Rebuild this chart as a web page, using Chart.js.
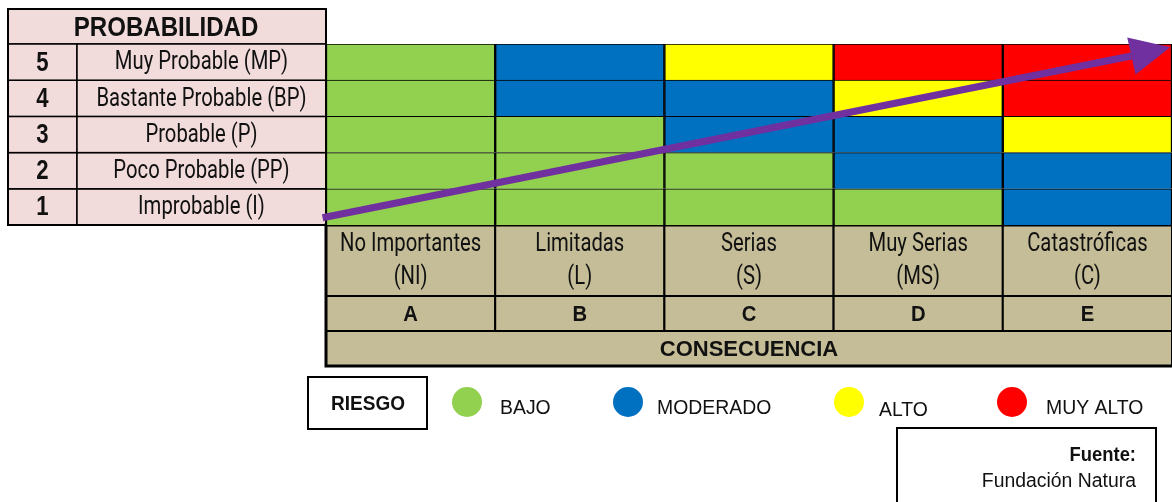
<!DOCTYPE html>
<html lang="es">
<head>
<meta charset="UTF-8">
<title>Matriz de riesgo</title>
<script src="https://cdn.jsdelivr.net/npm/chart.js"></script>
<style>
  body { margin: 0; background: #fff; }
  canvas { display: block; }
</style>
</head>
<body>
<canvas id="matrix" width="1172" height="502"></canvas>
<script>
// probability levels, bottom (1) to top (5)
const probLevels = ['1', '2', '3', '4', '5'];
const probLabels = ['Improbable (I)', 'Poco Probable (PP)', 'Probable (P)', 'Bastante Probable (BP)', 'Muy Probable (MP)'];

// consequence columns
const consLetters = ['A', 'B', 'C', 'D', 'E'];
const consLabels = [['No Importantes', '(NI)'], ['Limitadas', '(L)'], ['Serias', '(S)'], ['Muy Serias', '(MS)'], ['Catastróficas', '(C)']];

// risk categories
const riskLevels = ['BAJO', 'MODERADO', 'ALTO', 'MUY ALTO'];
const riskColors = ['#92d050', '#0070c0', '#ffff00', '#ff0000'];

// risk index per cell, one row per probability level (1..5), columns A..E
const riskRow1 = [0, 0, 0, 0, 1];
const riskRow2 = [0, 0, 0, 1, 1];
const riskRow3 = [0, 0, 1, 1, 2];
const riskRow4 = [0, 1, 1, 2, 3];
const riskRow5 = [0, 1, 2, 3, 3];
const riskRows = [riskRow1, riskRow2, riskRow3, riskRow4, riskRow5];

// arrow, in grid units (column, row)
const arrowStart = { x: -0.02, y: 0.2 };
const arrowBase = { x: 4.76, y: 4.67 };
const arrowTip = { x: 4.99, y: 4.91 };

const PINK = '#f2dcdb';
const TAN = '#c4bd97';
const PURPLE = '#7030a0';
const NARROW = '25px Roboto';

function txt(ctx, s, x, y, font, sx, align) {
  ctx.save();
  ctx.font = font;
  ctx.textBaseline = 'middle';
  ctx.textAlign = align || 'center';
  ctx.translate(x, y);
  ctx.scale(sx, 1);
  ctx.fillStyle = '#111';
  ctx.fillText(s, 0, 0);
  ctx.restore();
}

function box(ctx, x, y, w, h, fill, lw) {
  if (fill) { ctx.fillStyle = fill; ctx.fillRect(x, y, w, h); }
  ctx.lineWidth = lw || 2;
  ctx.strokeStyle = '#000';
  ctx.strokeRect(x, y, w, h);
}

const tablesPlugin = {
  id: 'tables',
  beforeDatasetsDraw(chart) {
    const ctx = chart.ctx;
    const xs = chart.scales.x2, ys = chart.scales.y;
    const top = ys.getPixelForValue(5), base = ys.getPixelForValue(0);
    const left = xs.getPixelForValue(0), right = xs.getPixelForValue(5);

    // left table: probability
    const tl = 8, numR = 77;
    box(ctx, tl, 9, left - tl, top - 9, PINK, 1.5);
    txt(ctx, 'PROBABILIDAD', (tl + left) / 2 - 1, 28, 'bold 28px "Liberation Sans"', 0.86);
    for (let i = 0; i < probLevels.length; i++) {
      const y0 = ys.getPixelForValue(i + 1), y1 = ys.getPixelForValue(i);
      box(ctx, tl, y0, numR - tl, y1 - y0, PINK, 1.5);
      box(ctx, numR, y0, left - numR, y1 - y0, PINK, 1.5);
      const cy = (y0 + y1) / 2;
      txt(ctx, probLevels[i], (tl + numR) / 2, cy + 1, 'bold 27px "Liberation Sans"', 0.82);
      txt(ctx, probLabels[i], (numR + left) / 2, cy + 1, NARROW, 0.81);
    }
    ctx.lineWidth = 2;
    ctx.strokeRect(tl, 9, left - tl, base - 9);

    // bottom table: consequence
    const hdrB = base + 71, letB = hdrB + 35, consB = letB + 35;
    for (let i = 0; i < consLetters.length; i++) {
      const x0 = xs.getPixelForValue(i), x1 = xs.getPixelForValue(i + 1);
      const cx = (x0 + x1) / 2;
      box(ctx, x0, base, x1 - x0, hdrB - base, TAN, 2);
      box(ctx, x0, hdrB, x1 - x0, letB - hdrB, TAN, 2);
      txt(ctx, consLabels[i][0], cx, base + 20, NARROW, 0.81);
      txt(ctx, consLabels[i][1], cx, base + 53, NARROW, 0.81);
      txt(ctx, consLetters[i], cx, (hdrB + letB) / 2 + 1, 'bold 22px "Liberation Sans"', 0.92);
    }
    box(ctx, left, letB, right - left, consB - letB, TAN, 2);
    txt(ctx, 'CONSECUENCIA', (left + right) / 2, (letB + consB) / 2 + 1, 'bold 22px "Liberation Sans"', 1);
    ctx.lineWidth = 3;
    ctx.strokeRect(left, base, right - left + 2, consB - base);

    // legend
    box(ctx, 308, 377, 119, 52, '#fff', 2);
    txt(ctx, 'RIESGO', 368, 404, 'bold 20px "Liberation Sans"', 0.95);
    const dotX = [467, 628, 849, 1012];
    const labX = [500, 657, 879, 1046];
    const labY = [408, 408, 410, 408];
    for (let i = 0; i < riskLevels.length; i++) {
      ctx.beginPath();
      ctx.arc(dotX[i], 402, 15, 0, Math.PI * 2);
      ctx.fillStyle = riskColors[i];
      ctx.fill();
      txt(ctx, riskLevels[i], labX[i], labY[i], '20px "Liberation Sans"', 0.97, 'left');
    }

    // source box
    ctx.lineWidth = 2;
    ctx.strokeStyle = '#000';
    ctx.strokeRect(897, 428, 259, 90);
    txt(ctx, 'Fuente:', 1136, 455, 'bold 20px "Liberation Sans"', 0.92, 'right');
    txt(ctx, 'Fundación Natura', 1136, 481, '20px "Liberation Sans"', 0.97, 'right');
  },
  afterDatasetsDraw(chart) {
    const ctx = chart.ctx;
    const xs = chart.scales.x2, ys = chart.scales.y;
    const bx = xs.getPixelForValue(arrowBase.x), by = ys.getPixelForValue(arrowBase.y);
    const tx = xs.getPixelForValue(arrowTip.x), ty = ys.getPixelForValue(arrowTip.y);
    const len = Math.hypot(tx - bx, ty - by);
    const nx = -(ty - by) / len, ny = (tx - bx) / len;
    const half = 19;
    ctx.save();
    ctx.beginPath();
    ctx.moveTo(tx, ty);
    ctx.lineTo(bx + nx * half, by + ny * half);
    ctx.lineTo(bx - nx * half, by - ny * half);
    ctx.closePath();
    ctx.fillStyle = PURPLE;
    ctx.fill();
    ctx.restore();
  }
};

const barSets = riskRows.map((row, i) => ({
  type: 'bar',
  label: probLabels[i],
  stack: 'grid',
  grouped: false,
  data: row.map(() => 1),
  backgroundColor: row.map(r => riskColors[r]),
  borderColor: '#000',
  borderWidth: { top: 1, left: 1.5, right: 1.5, bottom: 0 },
  borderSkipped: false,
  categoryPercentage: 1,
  barPercentage: 1,
  order: 1
}));

const arrowSet = {
  type: 'line',
  label: 'tendencia',
  xAxisID: 'x2',
  data: [arrowStart, arrowBase],
  borderColor: PURPLE,
  borderWidth: 7,
  borderCapStyle: 'butt',
  pointRadius: 0,
  clip: false,
  order: 0
};

new Chart(document.getElementById('matrix'), {
  data: { labels: consLetters, datasets: [arrowSet].concat(barSets) },
  options: {
    responsive: false,
    animation: false,
    layout: { padding: { left: 326, top: 44, right: 0, bottom: 277 } },
    plugins: { legend: { display: false }, tooltip: { enabled: false } },
    scales: {
      x: { stacked: true, display: false },
      x2: { type: 'linear', min: 0, max: 5, display: false },
      y: { stacked: true, min: 0, max: 5, display: false }
    }
  },
  plugins: [tablesPlugin]
});
</script>
</body>
</html>
